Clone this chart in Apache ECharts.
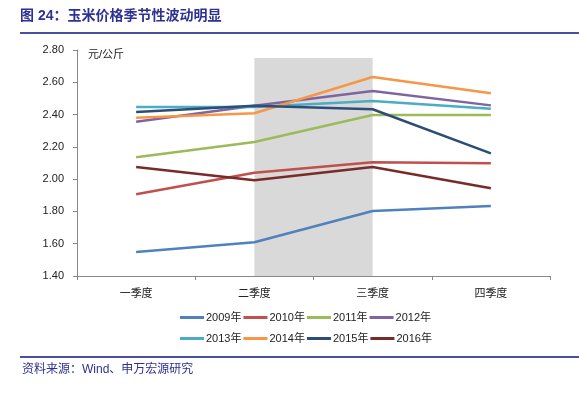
<!DOCTYPE html>
<html><head><meta charset="utf-8">
<script src="https://cdn.jsdelivr.net/npm/echarts@6/dist/echarts.min.js"></script>
<style>html,body{margin:0;padding:0;background:#fff}#c{width:579px;height:394px}</style>
</head><body><div id="c"></div>
<script>
const categories = ['一季度','二季度','三季度','四季度'];
const yearNames = ['2009年','2010年','2011年','2012年','2013年','2014年','2015年','2016年'];
const s2009 = [1.549, 1.609, 1.803, 1.834];
const s2010 = [1.906, 2.040, 2.104, 2.098];
const s2011 = [2.135, 2.230, 2.397, 2.397];
const s2012 = [2.356, 2.455, 2.546, 2.457];
const s2013 = [2.447, 2.447, 2.484, 2.436];
const s2014 = [2.380, 2.408, 2.633, 2.532];
const s2015 = [2.416, 2.455, 2.433, 2.160];
const s2016 = [2.075, 1.993, 2.075, 1.943];
const seriesValues = [s2009, s2010, s2011, s2012, s2013, s2014, s2015, s2016];
const colors = ['#4F81BD','#C0504D','#9BBB59','#8064A2','#4BACC6','#F79646','#2C4D75','#772C2A'];
const yTicks = ['1.40','1.60','1.80','2.00','2.20','2.40','2.60','2.80'];
const shadeFrom = '二季度', shadeTo = '三季度', shadeTop = 2.75;

const chart = echarts.init(document.getElementById('c'), null, {renderer:'canvas'});
const font = 'Liberation Sans, Noto Sans CJK SC, sans-serif';
const series = yearNames.map((n,i)=>({
  name:n, type:'line', data:seriesValues[i], symbol:'none',
  lineStyle:{width:2.5,color:colors[i]}, itemStyle:{color:colors[i]},
  z: 3
}));
series[0].markArea = {silent:true, itemStyle:{color:'#D9D9D9'}, z:1,
  data:[[{xAxis:shadeFrom, yAxis:1.4},{xAxis:shadeTo, yAxis:shadeTop}]]};
const legendCommon = {itemWidth:24, itemHeight:3, itemGap:2, icon:'rect',
  textStyle:{fontSize:11, color:'#222', fontFamily:font, padding:[0,0,0,-3]}};
chart.setOption({
  animation:false,
  color:colors,
  grid:{left:77, right:29, top:50, bottom:118},
  xAxis:{type:'category', data:categories, boundaryGap:true,
    axisLine:{lineStyle:{color:'#888'}}, axisTick:{show:true, length:4, lineStyle:{color:'#888'}},
    axisLabel:{fontSize:11, color:'#222', fontFamily:font, margin:12}},
  yAxis:{type:'value', min:1.4, max:2.8, interval:0.2,
    axisLine:{show:true, lineStyle:{color:'#888'}}, axisTick:{show:true, length:4, lineStyle:{color:'#888'}},
    splitLine:{show:false},
    axisLabel:{fontSize:11, color:'#222', fontFamily:font, margin:13,
      formatter:(v)=>yTicks[Math.round((v-1.4)/0.2)] || v.toFixed(2)}},
  legend:[
    Object.assign({data:yearNames.slice(0,4), left:175, top:307}, legendCommon),
    Object.assign({data:yearNames.slice(4,8), left:175, top:328}, legendCommon)
  ],
  graphic:[
    {type:'text', left:20, top:9, style:{text:'图 24：玉米价格季节性波动明显', font:'bold 14px '+font, fill:'#2E3192'}},
    {type:'line', shape:{x1:20,y1:33,x2:579,y2:33}, style:{stroke:'#4B4FA0', lineWidth:2}},
    {type:'text', left:88, top:49, style:{text:'元/公斤', font:'11px '+font, fill:'#222'}},
    {type:'line', shape:{x1:20,y1:357,x2:579,y2:357}, style:{stroke:'#4B4FA0', lineWidth:2}},
    {type:'text', left:22, top:364, style:{text:'资料来源：Wind、申万宏源研究', font:'12px '+font, fill:'#2E3192'}}
  ],
  series:series
});
</script></body></html>
